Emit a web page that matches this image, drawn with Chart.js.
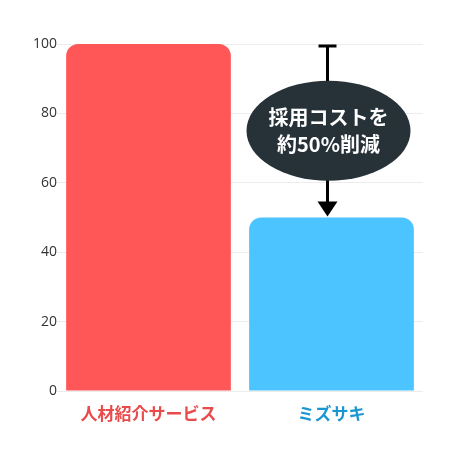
<!DOCTYPE html>
<html>
<head>
<meta charset="utf-8">
<script src="https://cdn.jsdelivr.net/npm/chart.js@4"></script>
<style>
  body { margin: 0; background: #fff; }
</style>
</head>
<body>
<canvas id="chart" width="450" height="450"></canvas>
<script>
const categories = ['人材紹介サービス', 'ミズサキ'];
const costValues = [100, 50];
const barColors = ['#ff5757', '#4cc4ff'];
const labelColors = ['#e94b4b', '#1a96d2'];
const calloutLines = ['採用コストを', '約50%削減'];

const FONT = '"Noto Sans CJK JP", "Noto Sans", sans-serif';

//arrow + dark bubble between the two bar tops
const calloutPlugin = {
    id: 'callout',
    afterDatasetsDraw(chart) {
        const ctx = chart.ctx;
        const xs = chart.scales.x;
        const ys = chart.scales.y;
        const x = xs.getPixelForValue(1) - 4;
        const yTop = ys.getPixelForValue(costValues[0]) + 2;
        const yEnd = ys.getPixelForValue(costValues[1]) - 1;
        const yMid = ys.getPixelForValue((costValues[0] + costValues[1]) / 2);

        ctx.save();
        ctx.strokeStyle = '#000';
        ctx.fillStyle = '#000';
        ctx.lineWidth = 3;
        // cap
        ctx.beginPath();
        ctx.moveTo(x - 9, yTop);
        ctx.lineTo(x + 9, yTop);
        ctx.stroke();
        // shaft
        ctx.beginPath();
        ctx.moveTo(x, yTop);
        ctx.lineTo(x, yEnd - 12);
        ctx.stroke();
        // head
        ctx.beginPath();
        ctx.moveTo(x - 10, yEnd - 15);
        ctx.lineTo(x + 10, yEnd - 15);
        ctx.lineTo(x, yEnd);
        ctx.closePath();
        ctx.fill();

        // bubble
        ctx.fillStyle = '#263238';
        ctx.beginPath();
        ctx.ellipse(x + 1, yMid, 82, 50, 0, 0, Math.PI * 2);
        ctx.fill();

        ctx.fillStyle = '#fff';
        ctx.font = 'bold 20px ' + FONT;
        ctx.textAlign = 'center';
        ctx.textBaseline = 'middle';
        ctx.fillText(calloutLines[0], x + 1, yMid - 13);
        ctx.fillText(calloutLines[1], x + 1, yMid + 14);
        ctx.restore();
    }
};

const chart = new Chart(document.getElementById('chart'), {
    type: 'bar',
    data: {
        labels: categories,
        datasets: [{
            data: costValues,
            backgroundColor: barColors,
            borderRadius: { topLeft: 12, topRight: 12 },
            borderSkipped: 'bottom',
            barPercentage: 0.9,
            categoryPercentage: 1.0
        }]
    },
    options: {
        responsive: false,
        animation: false,
        layout: {
            padding: { top: 44, right: 27, bottom: 0, left: 0 }
        },
        plugins: {
            legend: { display: false },
            tooltip: { enabled: false }
        },
        scales: {
            x: {
                grid: { display: false },
                border: { display: false },
                ticks: {
                    padding: 4,
                    color: (c) => labelColors[c.index],
                    font: { family: FONT, size: 17, weight: 'bold' }
                },
                afterFit(scale) { scale.height = 59; }
            },
            y: {
                min: 0,
                max: 100,
                ticks: {
                    stepSize: 20,
                    padding: 0,
                    color: '#333',
                    font: { family: '"Open Sans", sans-serif', size: 14 }
                },
                grid: { color: '#ececec', drawTicks: false },
                border: { display: false },
                afterFit(scale) { scale.width = 57; }
            }
        }
    },
    plugins: [calloutPlugin]
});
</script>
</body>
</html>
